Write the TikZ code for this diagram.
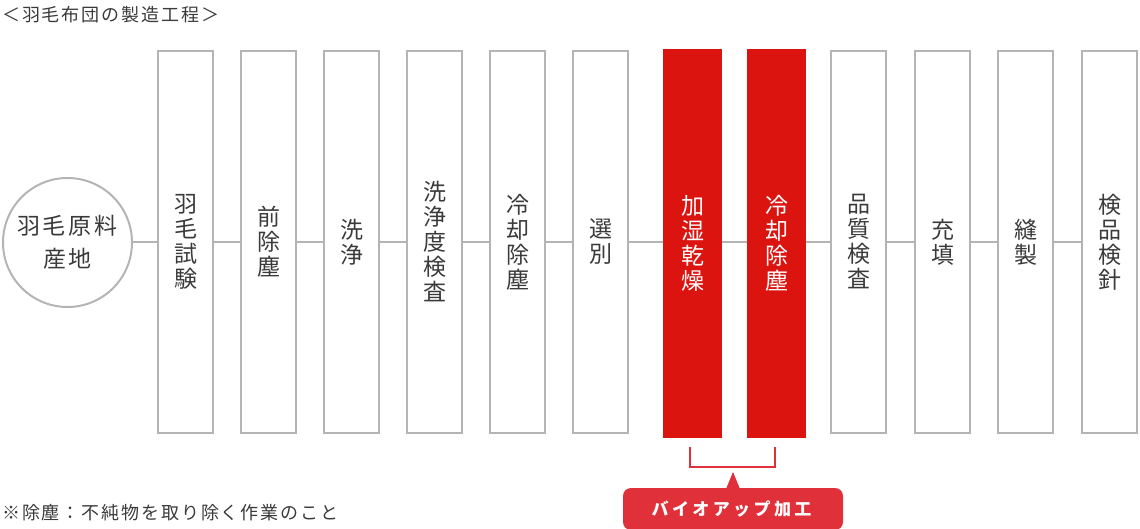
\documentclass[tikz,border=0pt]{standalone}
\usepackage{fontspec}
\setmainfont{Noto Sans CJK JP}
\newfontfamily\jpspaced[LetterSpace=10.5]{Noto Sans CJK JP}
\newfontfamily\jpcircle[LetterSpace=13]{Noto Sans CJK JP}
\newfontfamily\jpcall[LetterSpace=20]{Noto Sans CJK JP}
\definecolor{boxgray}{HTML}{B4B4B4}
\definecolor{txtgray}{HTML}{3A3A3A}
\definecolor{boxred}{HTML}{DC1410}
\definecolor{callred}{HTML}{E0303A}
\tikzset{
  gbox/.style={draw=boxgray, line width=2pt, fill=white, minimum width=55pt, minimum height=382pt,
    inner sep=0pt, align=center, text=txtgray, font=\fontsize{23}{25}\selectfont},
  rbox/.style={fill=boxred, draw=none, minimum width=59pt, minimum height=389pt,
    inner sep=0pt, align=center, text=white, font=\fontsize{23}{25}\selectfont},
  conn/.style={draw=boxgray, line width=2pt},
  startc/.style={circle, draw=boxgray, line width=2pt, minimum size=129pt, inner sep=0pt,
    align=center, text=txtgray, font=\jpcircle\fontsize{23}{33}\selectfont},
  plain/.style={inner sep=0pt, text=txtgray, font=\jpspaced\fontsize{18}{20}\selectfont, anchor=west},
  bracket/.style={draw=callred, line width=1.6pt},
  callout/.style={fill=callred, rounded corners=8pt, minimum width=220pt, minimum height=42pt,
    inner sep=0pt, text=white, font=\jpcall\bfseries\fontsize{17}{20}\selectfont}
}
\begin{document}
\begin{tikzpicture}[x=1pt,y=-1pt]
\useasboundingbox (0,0) rectangle (1140,529);
\node[plain] (title) at (2,15) {＜羽毛布団の製造工程＞};
\node[startc] (c) at (67.5,242.5) {羽毛原料\\産地};
\node[gbox] (b1) at (185.5,242) {羽\\毛\\試\\験};
\node[gbox] (b2) at (268.5,242) {前\\除\\塵};
\node[gbox] (b3) at (351.5,242) {洗\\浄};
\node[gbox] (b4) at (434.5,242) {洗\\浄\\度\\検\\査};
\node[gbox] (b5) at (517.5,242) {冷\\却\\除\\塵};
\node[gbox] (b6) at (600.5,242) {選\\別};
\node[rbox] (r1) at (692.5,243.5) {加\\湿\\乾\\燥};
\node[rbox] (r2) at (776.5,243.5) {冷\\却\\除\\塵};
\node[gbox] (b9) at (858.5,242) {品\\質\\検\\査};
\node[gbox] (b10) at (942.5,242) {充\\填};
\node[gbox] (b11) at (1025.5,242) {縫\\製};
\node[gbox] (b12) at (1109.5,242) {検\\品\\検\\針};
\draw[conn] (c.east) -- (c.east -| b1.west);
\draw[conn] (b1.east) -- (b2.west);
\draw[conn] (b2.east) -- (b3.west);
\draw[conn] (b3.east) -- (b4.west);
\draw[conn] (b4.east) -- (b5.west);
\draw[conn] (b5.east) -- (b6.west);
\draw[conn] (b6.east) -- (b6.east -| r1.west);
\draw[conn] (r1.east |- b6.east) -- (r2.west |- b6.east);
\draw[conn] (r2.east |- b9.west) -- (b9.west);
\draw[conn] (b9.east) -- (b10.west);
\draw[conn] (b10.east) -- (b11.west);
\draw[conn] (b11.east) -- (b12.west);
\coordinate (bl) at (690,447);
\coordinate (br) at (775,447);
\draw[bracket] (bl) -- (690,467) -- (775,467) -- (br);
\node[callout] (call) at (733,509) {\hspace*{-3pt}バイオアップ加工};
\fill[callred] (726,489) -- (733,472) -- (740,489) -- cycle;
\node[plain] (note) at (2,513) {※除塵：不純物を取り除く作業のこと};
\end{tikzpicture}
\end{document}
